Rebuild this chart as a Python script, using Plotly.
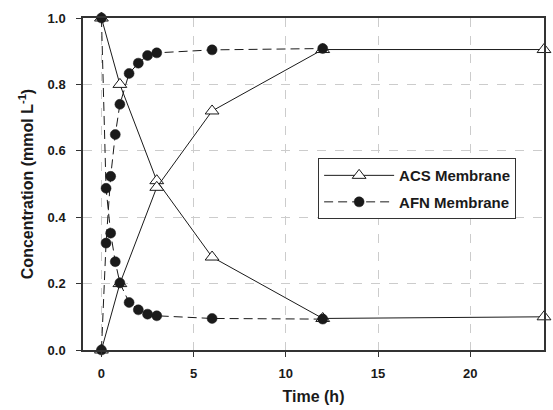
import plotly.graph_objects as go

# ACS membrane (open triangles, solid line)
acs_time = [0, 1, 3, 6, 12, 24]
acs_decrease = [1.0, 0.80, 0.51, 0.28, 0.095, 0.10]
acs_increase = [0.0, 0.20, 0.49, 0.72, 0.905, 0.905]

# AFN membrane (filled circles, dashed line)
afn_time = [0, 0.25, 0.5, 0.75, 1, 1.5, 2, 2.5, 3, 6, 12]
afn_decrease = [1.0, 0.487, 0.352, 0.266, 0.202, 0.143, 0.121, 0.108, 0.103, 0.095, 0.093]
afn_increase = [0.0, 0.322, 0.523, 0.649, 0.740, 0.833, 0.864, 0.887, 0.895, 0.904, 0.908]

x_ticks = [0, 5, 10, 15, 20]
y_ticks = [0.0, 0.2, 0.4, 0.6, 0.8, 1.0]

FONT = "Arial, Liberation Sans, Helvetica, sans-serif"
INK = "#1a1a1a"

fig = go.Figure()

def afn(y, show):
    fig.add_trace(go.Scatter(
        x=afn_time, y=y, mode="lines+markers", name="AFN Membrane",
        showlegend=show, cliponaxis=False, legendgroup="afn",
        line=dict(color=INK, width=1, dash="9px,5px"),
        marker=dict(symbol="circle", size=10, color=INK,
                    line=dict(color=INK, width=0.5))))

def acs(y, show):
    fig.add_trace(go.Scatter(
        x=acs_time, y=y, mode="lines+markers", name="ACS Membrane",
        showlegend=show, cliponaxis=False, legendgroup="acs",
        line=dict(color=INK, width=1),
        marker=dict(symbol="triangle-up", size=12, color="white",
                    line=dict(color=INK, width=1))))

acs(acs_decrease, True)
acs(acs_increase, False)
afn(afn_decrease, True)
afn(afn_increase, False)

axis_common = dict(
    showline=True, linecolor="#333333", linewidth=1.5, mirror=True,
    ticks="outside", ticklen=5, tickwidth=1, tickcolor="#333333",
    showgrid=True, gridcolor="#cccccc", gridwidth=1, griddash="dash",
    zeroline=False,
    tickfont=dict(family=FONT, size=13, color=INK, weight="bold"),
)

fig.update_xaxes(
    range=[-1, 24], tickvals=x_ticks, ticktext=[str(v) for v in x_ticks],
    ticklabelstandoff=6,
    title=dict(text="Time (h)", font=dict(family=FONT, size=16, color=INK, weight="bold"),
               standoff=10),
    **axis_common)
fig.update_yaxes(
    range=[0, 1.0], tickvals=y_ticks, ticktext=[f"{v:.1f}" for v in y_ticks],
    ticklabelstandoff=8,
    title=dict(text="Concentration (mmol L<sup>-1</sup>)",
               font=dict(family=FONT, size=16, color=INK, weight="bold"),
               standoff=10),
    **axis_common)

fig.update_layout(
    width=553, height=410,
    margin=dict(l=83, r=7, t=18, b=57),
    paper_bgcolor="white", plot_bgcolor="white",
    font=dict(family=FONT, color=INK),
    legend=dict(
        x=0.51, y=0.578, xanchor="left", yanchor="top",
        bgcolor="white", bordercolor="#333333", borderwidth=1,
        font=dict(family=FONT, size=15, color=INK, weight="bold"),
        itemwidth=70, tracegroupgap=4,
    ),
)

fig.write_html("out.html")
